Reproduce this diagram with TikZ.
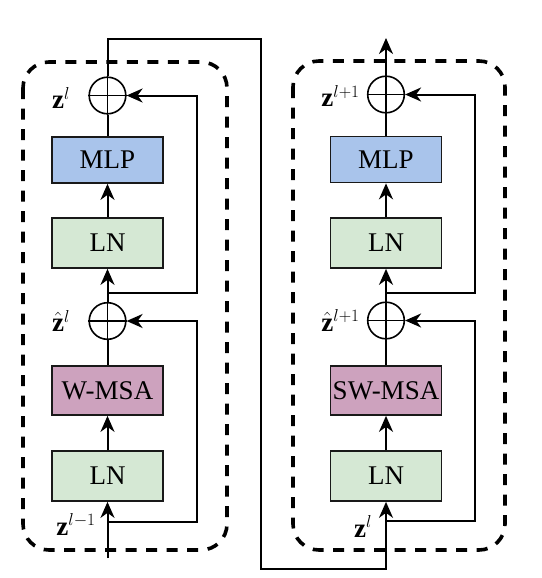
\documentclass[tikz,border=0pt]{standalone}
\usepackage{fontspec}
\setmainfont{Liberation Serif}
\usetikzlibrary{arrows.meta}
\definecolor{mlpblue}{HTML}{A9C4EB}
\definecolor{lngreen}{HTML}{D5E8D4}
\definecolor{msapink}{HTML}{CDA2BE}
\begin{document}
\begin{tikzpicture}[x=1pt,y=-1pt,
  blk/.style={draw=black!90, line width=1.7pt, minimum width=111pt, inner sep=0pt, font=\fontsize{27}{32}\selectfont},
  addc/.style={circle, draw, line width=1.6pt, minimum size=36.6pt, inner sep=0pt},
  conn/.style={line width=2pt},
  arr/.style={conn, -{Stealth[length=16pt,width=14pt,inset=5pt]}},
  lbl/.style={font=\fontsize{27}{32}\selectfont, inner sep=0pt},
  dbox/.style={line width=3.6pt, dash pattern=on 11pt off 9.5pt, rounded corners=26pt}]
\useasboundingbox (0,0) rectangle (541,578);
% dashed frames
\draw[dbox] (23,62) rectangle (227,550);
\draw[dbox] (293,61) rectangle (505,550);
% left block
\node[blk, fill=lngreen, minimum height=50pt] (ln1a) at (107.5,476) {LN};
\node[blk, fill=msapink, minimum height=49pt] (msa1) at (107.5,390.5) {W-MSA};
\node[addc] (c2a) at (107.5,321) {};
\node[blk, fill=lngreen, minimum height=50pt] (ln2a) at (107.5,243) {LN};
\node[blk, fill=mlpblue, minimum height=46pt] (mlp1) at (107.5,160) {MLP};
\node[addc] (c1a) at (107.5,95.5) {};
% right block
\node[blk, fill=lngreen, minimum height=50pt] (ln1b) at (386,476) {LN};
\node[blk, fill=msapink, minimum height=49pt] (msa2) at (386,390.5) {SW-MSA};
\node[addc] (c2b) at (386,320.5) {};
\node[blk, fill=lngreen, minimum height=50pt] (ln2b) at (386,243) {LN};
\node[blk, fill=mlpblue, minimum height=46pt] (mlp2) at (386,159.5) {MLP};
\node[addc] (c1b) at (386,94.5) {};
% plus signs
\foreach \c in {c1a,c2a,c1b,c2b}{
  \draw[line width=1.6pt] (\c.north) -- (\c.south) (\c.west) -- (\c.east);
}
% coordinates
\coordinate (inL) at (107.5,558);
\coordinate (brA) at (107.5,522);
\coordinate (brB) at (107.5,293);
\coordinate (skL) at (197,0);
\coordinate (topR) at (261,39);
\coordinate (botM) at (261,569);
\coordinate (brC) at (386,521);
\coordinate (brD) at (386,293);
\coordinate (skR) at (475,0);
\coordinate (outR) at (386,38);
% left connectors
\draw[arr] (inL) -- (ln1a.south);
\draw[arr] (brA) -- (brA -| skL) |- (c2a.east);
\draw[arr] (ln1a) -- (msa1);
\draw[conn] (msa1.north) -- (c2a.south);
\draw[arr] (c2a.north) -- (ln2a.south);
\draw[arr] (brB) -- (brB -| skL) |- (c1a.east);
\draw[arr] (ln2a) -- (mlp1);
\draw[conn] (mlp1.north) -- (c1a.south);
% link between blocks
\draw[arr] (c1a.north) |- (topR) -- (botM) -| (ln1b.south);
% right connectors
\draw[arr] (brC) -- (brC -| skR) |- (c2b.east);
\draw[arr] (ln1b) -- (msa2);
\draw[conn] (msa2.north) -- (c2b.south);
\draw[arr] (c2b.north) -- (ln2b.south);
\draw[arr] (brD) -- (brD -| skR) |- (c1b.east);
\draw[arr] (ln2b) -- (mlp2);
\draw[conn] (mlp2.north) -- (c1b.south);
\draw[arr] (c1b.north) -- (outR);
% labels
\node[lbl] (lzA) at (61,98) {$\mathbf{z}^l$};
\node[lbl] (lzhA) at (61,321) {$\hat{\mathbf{z}}^l$};
\node[lbl] (lzin) at (76,524.5) {$\mathbf{z}^{l-1}$};
\node[lbl] (lzB) at (340.5,96) {$\mathbf{z}^{l+1}$};
\node[lbl] (lzhB) at (340.5,320.5) {$\hat{\mathbf{z}}^{l+1}$};
\node[lbl] (lzinB) at (363,526.5) {$\mathbf{z}^l$};
\end{tikzpicture}
\end{document}
